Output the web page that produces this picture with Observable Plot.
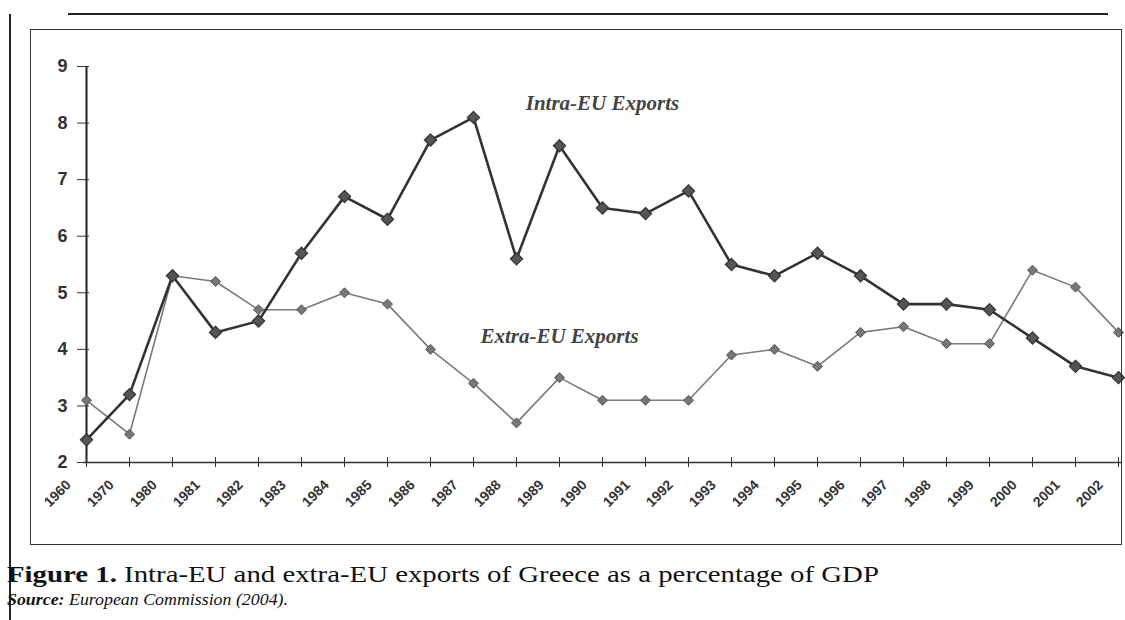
<!DOCTYPE html>
<html><head><meta charset="utf-8">
<script src="https://cdn.jsdelivr.net/npm/d3@7"></script>
<script src="https://cdn.jsdelivr.net/npm/@observablehq/plot@0.6"></script>
<style>
body{margin:0;background:#fff;}
#wrap{position:relative;width:1125px;height:620px;overflow:hidden;background:#fff;}
#chart{position:absolute;left:0;top:0;}
.ln{position:absolute;background:#222;}
#box{position:absolute;left:30px;top:29px;width:1090px;height:514px;border:1.5px solid #333;pointer-events:none;}
#cap{position:absolute;left:7px;top:561px;font-family:"Liberation Serif","Times New Roman",serif;font-size:24px;color:#111;white-space:nowrap;transform:scaleX(1.2);transform-origin:left top;}
#src{position:absolute;left:7px;top:590px;font-family:"Liberation Serif","Times New Roman",serif;font-size:17px;font-style:italic;color:#111;white-space:nowrap;transform:scaleX(1.05);transform-origin:left top;}
</style></head>
<body>
<div id="wrap">
  <div id="chart"></div>
  <div class="ln" style="left:68px;top:13px;width:1040px;height:2px;"></div>
  <div class="ln" style="left:9px;top:14px;width:2px;height:606px;"></div>
  <div id="box"></div>
  <div id="cap"><b>Figure 1.</b> Intra-EU and extra-EU exports of Greece as a percentage of GDP</div>
  <div id="src"><b>Source:</b> European Commission (2004).</div>
</div>
<script>
const years = ["1960","1970","1980","1981","1982","1983","1984","1985","1986","1987","1988","1989","1990","1991","1992","1993","1994","1995","1996","1997","1998","1999","2000","2001","2002"];
const intraEU = [2.4,3.2,5.3,4.3,4.5,5.7,6.7,6.3,7.7,8.1,5.6,7.6,6.5,6.4,6.8,5.5,5.3,5.7,5.3,4.8,4.8,4.7,4.2,3.7,3.5];
const extraEU = [3.1,2.5,5.3,5.2,4.7,4.7,5.0,4.8,4.0,3.4,2.7,3.5,3.1,3.1,3.1,3.9,4.0,3.7,4.3,4.4,4.1,4.1,5.4,5.1,4.3];
const yTicks = [2,3,4,5,6,7,8,9];
const seriesLabels = ["Intra-EU Exports","Extra-EU Exports"];
const labelYears = ["1990","1989"];
const labelValues = [8.35,4.23];

const intraData = years.map((y,i)=>({year:y,value:intraEU[i]}));
const extraData = years.map((y,i)=>({year:y,value:extraEU[i]}));
const labelData = seriesLabels.map((t,i)=>({text:t,year:labelYears[i],value:labelValues[i]}));

const chart = Plot.plot({
  width:1125, height:540,
  marginLeft:83, marginRight:4, marginTop:66, marginBottom:78,
  x:{type:"point", domain:years, padding:0, label:null},
  y:{domain:[2,9], label:null},
  style:{fontFamily:"Arial, 'Liberation Sans', sans-serif", color:"#222", background:"transparent"},
  marks:[
    Plot.ruleX([years[0]], {y1:2, y2:9, stroke:"#222", strokeWidth:2}),
    Plot.ruleY([2], {stroke:"#333", strokeWidth:1.5}),
    Plot.axisY({ticks:yTicks, tickFormat:d=>String(d), tickSize:6, tickPadding:10, fontSize:18, fontWeight:"bold", stroke:"#333", fill:"#333", label:null}),
    Plot.axisY({ticks:yTicks, tickSize:-6, tickFormat:()=>"", stroke:"#333", label:null}),
    Plot.axisX({tickRotate:-45, tickSize:0, tickPadding:10, dx:-18, dy:10, fontSize:14, fontWeight:"bold", fill:"#333", label:null}),
    Plot.axisX({tickSize:5, tickFormat:()=>"", stroke:"#333", label:null}),
    Plot.axisX({tickSize:-5, tickFormat:()=>"", stroke:"#333", label:null}),
    Plot.line(extraData, {x:"year", y:"value", stroke:"#7a7a7a", strokeWidth:1.6}),
    Plot.dot(extraData, {x:"year", y:"value", symbol:"diamond2", r:4.5, fill:"#777", stroke:"#555", strokeWidth:1}),
    Plot.line(intraData, {x:"year", y:"value", stroke:"#333", strokeWidth:2.6}),
    Plot.dot(intraData, {x:"year", y:"value", symbol:"diamond2", r:5.5, fill:"#555", stroke:"#333", strokeWidth:1.2}),
    Plot.text(labelData, {x:"year", y:"value", text:"text", fontFamily:"'Liberation Serif','Times New Roman',serif", fontStyle:"italic", fontWeight:"bold", fontSize:21, fill:"#444", textAnchor:"middle"})
  ]
});
document.getElementById("chart").appendChild(chart);
</script>
</body></html>
